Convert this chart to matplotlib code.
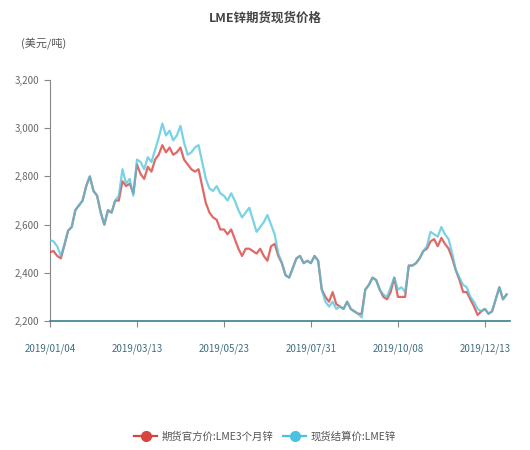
import matplotlib
matplotlib.use("Agg")
import matplotlib.pyplot as plt
from matplotlib.ticker import FuncFormatter
from matplotlib.lines import Line2D

plt.rcParams['font.family'] = ['Noto Sans CJK SC', 'DejaVu Sans']

tick_labels = ["2019/01/04", "2019/03/13", "2019/05/23", "2019/07/31", "2019/10/08", "2019/12/13"]
tick_positions = [0, 24, 48, 72, 96, 120]

futures_3m = [2486, 2490, 2470, 2460, 2515, 2575, 2590, 2660, 2680, 2700,
              2760, 2800, 2740, 2720, 2650, 2600, 2660, 2650, 2700, 2700,
              2780, 2760, 2770, 2730, 2850, 2810, 2790, 2840, 2820, 2870,
              2890, 2930, 2900, 2920, 2890, 2900, 2920, 2870, 2850, 2830,
              2820, 2830, 2760, 2690, 2650, 2630, 2620, 2580, 2580, 2560,
              2580, 2540, 2500, 2470, 2500, 2500, 2490, 2480, 2500, 2470,
              2450, 2510, 2520, 2470, 2440, 2390, 2380, 2420, 2460, 2470,
              2440, 2450, 2440, 2470, 2450, 2330, 2300, 2280, 2320, 2270,
              2260, 2250, 2280, 2250, 2240, 2230, 2230, 2330, 2350, 2380,
              2370, 2330, 2300, 2290, 2320, 2380, 2300, 2300, 2300, 2430,
              2430, 2440, 2460, 2490, 2500, 2530, 2540, 2510, 2545, 2520,
              2500, 2460, 2410, 2370, 2320, 2320, 2290, 2260, 2225, 2240,
              2250, 2230, 2240, 2290, 2340, 2290, 2310]

spot_settle = [2536, 2530, 2510, 2470, 2520, 2575, 2590, 2660, 2680, 2700,
               2760, 2800, 2740, 2720, 2650, 2600, 2660, 2650, 2700, 2720,
               2830, 2770, 2790, 2720, 2870, 2860, 2830, 2880, 2860, 2910,
               2960, 3020, 2970, 2990, 2950, 2970, 3010, 2940, 2890, 2900,
               2920, 2930, 2860, 2790, 2750, 2740, 2760, 2730, 2720, 2700,
               2730, 2700, 2660, 2630, 2650, 2670, 2620, 2570, 2590, 2610,
               2640, 2600, 2560, 2480, 2440, 2390, 2380, 2420, 2460, 2470,
               2440, 2450, 2440, 2470, 2450, 2330, 2280, 2260, 2280, 2250,
               2260, 2250, 2280, 2250, 2240, 2230, 2215, 2330, 2350, 2380,
               2370, 2330, 2310, 2300, 2340, 2380, 2330, 2340, 2320, 2430,
               2430, 2440, 2460, 2490, 2510, 2570, 2560, 2550, 2590, 2560,
               2540, 2480, 2410, 2380, 2350, 2340, 2300, 2280, 2250, 2240,
               2250, 2230, 2240, 2290, 2340, 2290, 2310]

series_names = ["期货官方价:LME3个月锌", "现货结算价:LME锌"]

fig = plt.figure(figsize=(5.3, 4.5), dpi=100)
ax = fig.add_axes([0.0943, 0.2867, 0.8677, 0.5353])

x = list(range(len(futures_3m)))
red = "#d9443f"
blue = "#4cc3dd"
ax.plot(x, futures_3m, color=red, lw=1.6, alpha=0.8, label=series_names[0], zorder=3)
ax.plot(x, spot_settle, color=blue, lw=1.6, alpha=0.75, label=series_names[1], zorder=4)

ax.set_xlim(0, 126.9)
ax.set_ylim(2200, 3200)
ax.set_yticks([2200, 2400, 2600, 2800, 3000, 3200])
ax.yaxis.set_major_formatter(FuncFormatter(lambda v, p: f"{int(v):,}"))
ax.set_xticks(tick_positions)
ax.set_xticklabels(tick_labels)

for s in ["top", "right"]:
    ax.spines[s].set_visible(False)
ax.spines["left"].set_color("#888888")
ax.spines["bottom"].set_color("#3a7f8c")
ax.spines["bottom"].set_linewidth(1.2)
ax.tick_params(axis='y', colors="#888888", labelsize=7, length=4, labelcolor="#666666")
ax.tick_params(axis='x', colors="#888888", labelsize=7, length=4, labelcolor="#3f6f80", pad=12)

fig.text(0.5, 0.96, "LME锌期货现货价格", ha="center", va="center", fontsize=9,
         fontweight="bold", color="#444444")
fig.text(0.04, 0.905, "(美元/吨)", ha="left", va="center", fontsize=8, color="#555555")

handles = [Line2D([0], [0], color=red, lw=1.6, marker='o', markersize=7),
           Line2D([0], [0], color=blue, lw=1.6, marker='o', markersize=7)]
fig.legend(handles, series_names, loc="center", bbox_to_anchor=(0.5, 0.03),
           ncol=2, frameon=False, fontsize=7.5, handlelength=2.2, columnspacing=1.0,
           handletextpad=0.4, labelcolor="#555555")

fig.savefig("out.png", dpi=100)
